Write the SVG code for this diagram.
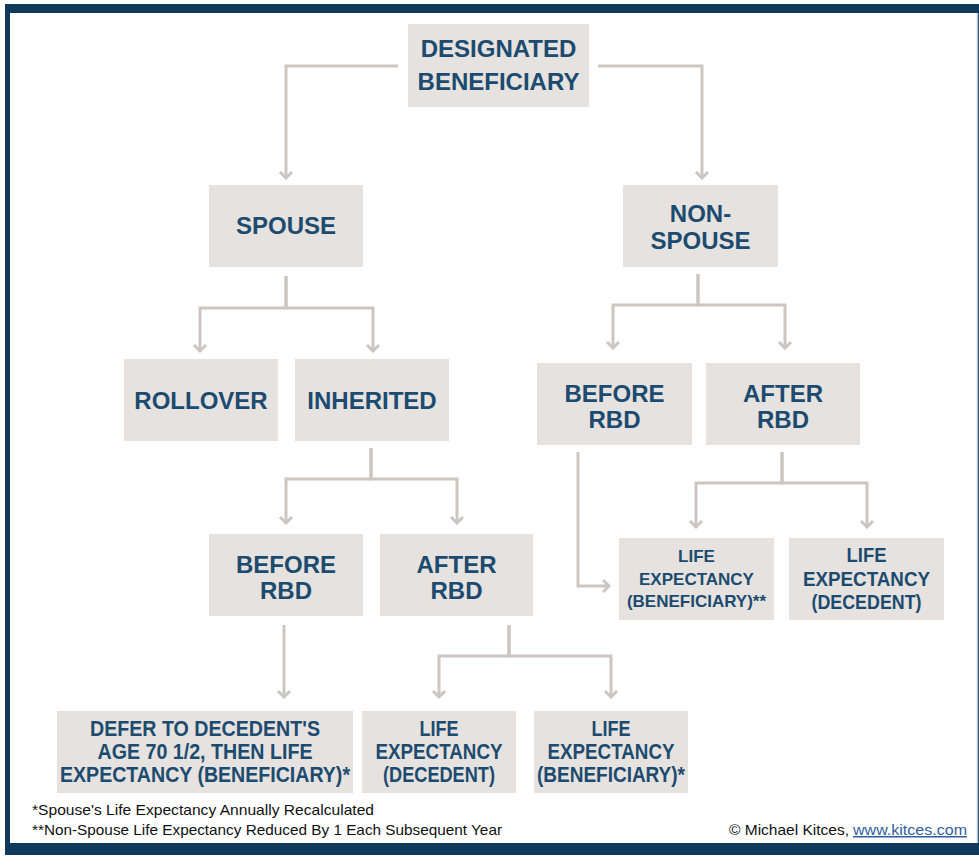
<svg xmlns="http://www.w3.org/2000/svg" width="979" height="867" viewBox="0 0 979 867">
  <style>
    .box { fill: #e5e2df; }
    .t { font-family: "Liberation Sans", Arial, sans-serif; font-weight: bold; fill: #1c4b6f; text-anchor: middle; }
    .t24 { font-size: 24px; }
    .t22 { font-size: 22px; }
    .t20 { font-size: 20px; }
    .t17 { font-size: 17px; }
    .conn { fill: none; stroke: #cbc6c2; stroke-width: 3; stroke-linejoin: miter; marker-end: url(#chev); }
    .note { font-family: "Liberation Sans", Arial, sans-serif; font-size: 15px; fill: #111; }
  </style>
  <defs>
    <marker id="chev" viewBox="-8 -8 10 16" markerWidth="10" markerHeight="16" refX="0" refY="0" orient="auto" markerUnits="userSpaceOnUse">
      <path d="M-6,-6 L0,0 L-6,6" fill="none" stroke="#cbc6c2" stroke-width="3"/>
    </marker>
  </defs>

  <!-- page frame -->
  <rect x="0" y="0" width="979" height="867" fill="#ffffff"/>
  <rect x="5" y="4" width="974" height="851" fill="#0f3a5c"/>
  <rect x="10" y="13" width="967" height="830" fill="#ffffff"/>
  <line x1="977.5" y1="13" x2="977.5" y2="843" stroke="#b3c1ce" stroke-width="1.5"/>

  <!-- connectors -->
  <g id="connectors">
    <path class="conn" d="M398,66 H286 V178"/>
    <path class="conn" d="M598,66 H702 V178"/>
    <path class="conn" d="M286,276 V308 H200 V351"/>
    <path class="conn" d="M286,276 V308 H373 V351"/>
    <path class="conn" d="M698,274 V305 H613 V348"/>
    <path class="conn" d="M698,274 V305 H785 V348"/>
    <path class="conn" d="M371,448 V479 H286 V523"/>
    <path class="conn" d="M371,448 V479 H457 V523"/>
    <path class="conn" d="M578,452 V586 H609"/>
    <path class="conn" d="M782,452 V483 H696 V527"/>
    <path class="conn" d="M782,452 V483 H867 V527"/>
    <path class="conn" d="M284,625 V697"/>
    <path class="conn" d="M509,625 V656 H439 V697"/>
    <path class="conn" d="M509,625 V656 H611 V697"/>
  </g>

  <!-- nodes -->
  <g id="designated-beneficiary">
    <rect class="box" x="408" y="24" width="181" height="83"/>
    <text class="t t24" x="498.5" y="57">DESIGNATED</text>
    <text class="t t24" x="498.5" y="90">BENEFICIARY</text>
  </g>
  <g id="spouse">
    <rect class="box" x="209" y="185" width="154" height="82"/>
    <text class="t t24" x="286" y="234">SPOUSE</text>
  </g>
  <g id="non-spouse">
    <rect class="box" x="623" y="185" width="155" height="82"/>
    <text class="t t24" x="700.5" y="222">NON-</text>
    <text class="t t24" x="700.5" y="249">SPOUSE</text>
  </g>
  <g id="rollover">
    <rect class="box" x="124" y="359" width="154" height="82"/>
    <text class="t t24" x="201" y="409">ROLLOVER</text>
  </g>
  <g id="inherited">
    <rect class="box" x="295" y="359" width="154" height="82"/>
    <text class="t t24" x="372" y="409">INHERITED</text>
  </g>
  <g id="nonspouse-before-rbd">
    <rect class="box" x="537" y="363" width="155" height="82"/>
    <text class="t t24" x="614.5" y="402">BEFORE</text>
    <text class="t t24" x="614.5" y="428">RBD</text>
  </g>
  <g id="nonspouse-after-rbd">
    <rect class="box" x="706" y="363" width="154" height="82"/>
    <text class="t t24" x="783" y="402">AFTER</text>
    <text class="t t24" x="783" y="428">RBD</text>
  </g>
  <g id="spouse-before-rbd">
    <rect class="box" x="209" y="534" width="154" height="82"/>
    <text class="t t24" x="286" y="573">BEFORE</text>
    <text class="t t24" x="286" y="599">RBD</text>
  </g>
  <g id="spouse-after-rbd">
    <rect class="box" x="380" y="534" width="153" height="82"/>
    <text class="t t24" x="456.5" y="573">AFTER</text>
    <text class="t t24" x="456.5" y="599">RBD</text>
  </g>
  <g id="nonspouse-life-beneficiary">
    <rect class="box" x="619" y="538" width="155" height="82"/>
    <text class="t t17" x="696.5" y="562">LIFE</text>
    <text class="t t17" x="696.5" y="585">EXPECTANCY</text>
    <text class="t t17" x="696.5" y="607">(BENEFICIARY)**</text>
  </g>
  <g id="nonspouse-life-decedent">
    <rect class="box" x="789" y="538" width="155" height="82"/>
    <text class="t t20" x="866.5" y="562" textLength="40" lengthAdjust="spacingAndGlyphs">LIFE</text>
    <text class="t t20" x="866.5" y="586" textLength="127" lengthAdjust="spacingAndGlyphs">EXPECTANCY</text>
    <text class="t t20" x="866.5" y="609" textLength="110" lengthAdjust="spacingAndGlyphs">(DECEDENT)</text>
  </g>
  <g id="defer-to-age">
    <rect class="box" x="57" y="711" width="296" height="82"/>
    <text class="t t22" x="205" y="736" textLength="230" lengthAdjust="spacingAndGlyphs">DEFER TO DECEDENT'S</text>
    <text class="t t22" x="205" y="759" textLength="215" lengthAdjust="spacingAndGlyphs">AGE 70 1/2, THEN LIFE</text>
    <text class="t t22" x="205" y="782" textLength="290" lengthAdjust="spacingAndGlyphs">EXPECTANCY (BENEFICIARY)*</text>
  </g>
  <g id="spouse-life-decedent">
    <rect class="box" x="362" y="711" width="154" height="82"/>
    <text class="t t22" x="439" y="736" textLength="39" lengthAdjust="spacingAndGlyphs">LIFE</text>
    <text class="t t22" x="439" y="759" textLength="127" lengthAdjust="spacingAndGlyphs">EXPECTANCY</text>
    <text class="t t22" x="439" y="782" textLength="112" lengthAdjust="spacingAndGlyphs">(DECEDENT)</text>
  </g>
  <g id="spouse-life-beneficiary">
    <rect class="box" x="534" y="711" width="154" height="82"/>
    <text class="t t22" x="611" y="736" textLength="39" lengthAdjust="spacingAndGlyphs">LIFE</text>
    <text class="t t22" x="611" y="759" textLength="127" lengthAdjust="spacingAndGlyphs">EXPECTANCY</text>
    <text class="t t22" x="611" y="782" textLength="148" lengthAdjust="spacingAndGlyphs">(BENEFICIARY)*</text>
  </g>

  <!-- footnotes and credit -->
  <g id="footnotes">
    <text class="note" x="32" y="815" textLength="342" lengthAdjust="spacingAndGlyphs">*Spouse's Life Expectancy Annually Recalculated</text>
    <text class="note" x="32" y="835" textLength="470" lengthAdjust="spacingAndGlyphs">**Non-Spouse Life Expectancy Reduced By 1 Each Subsequent Year</text>
    <text class="note" x="729" y="835" textLength="120" lengthAdjust="spacingAndGlyphs">© Michael Kitces,</text>
    <text class="note" x="853" y="835" textLength="114" lengthAdjust="spacingAndGlyphs" text-decoration="underline" style="fill:#2f5f9c">www.kitces.com</text>
  </g>
</svg>
